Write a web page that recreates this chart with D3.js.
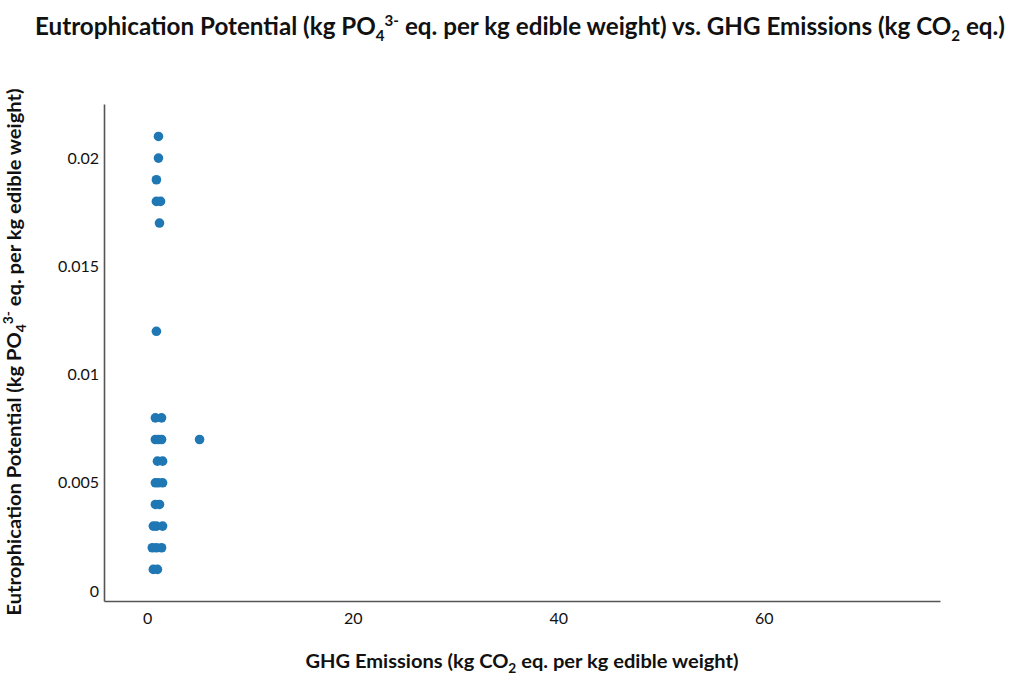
<!DOCTYPE html>
<html><head><meta charset="utf-8">
<script src="https://cdn.jsdelivr.net/npm/d3@7"></script>
<style>body{margin:0;background:#fff;} svg{display:block;}</style>
</head><body>
<svg id="c" width="1024" height="675"></svg>
<script>
const ghg = [1.1, 1.1, 0.9, 0.9, 1.3, 1.2, 0.9, 0.8, 1.4, 0.8, 1.1, 1.4, 5.1, 1.0, 1.5, 0.8, 1.1, 1.5, 0.8, 1.2, 0.6, 0.9, 1.5, 0.5, 0.9, 1.4, 0.6, 1.0];
const eutro = [0.021, 0.020, 0.019, 0.018, 0.018, 0.017, 0.012, 0.008, 0.008, 0.007, 0.007, 0.007, 0.007, 0.006, 0.006, 0.005, 0.005, 0.005, 0.004, 0.004, 0.003, 0.003, 0.003, 0.002, 0.002, 0.002, 0.001, 0.001];
const xTicks = [0, 20, 40, 60];
const yTicks = [0, 0.005, 0.01, 0.015, 0.02];
const xTickLabels = ["0", "20", "40", "60"];
const yTickLabels = ["0", "0.005", "0.01", "0.015", "0.02"];

const svg = d3.select("#c");
const FONT = "Lato, 'Open Sans', sans-serif";
const L = 104, R = 940, T = 104, B = 601;
const x = d3.scaleLinear().domain([-4.2, 77.15]).range([L, R]);
const y = d3.scaleLinear().domain([-0.00046, 0.0225]).range([B, T]);

// axes
const gx = svg.append("g").attr("transform", `translate(0,${B})`)
  .call(d3.axisBottom(x).tickValues(xTicks).tickFormat((d,i)=>xTickLabels[i]).tickSize(0).tickPadding(12));
const gy = svg.append("g").attr("transform", `translate(${L},0)`)
  .call(d3.axisLeft(y).tickValues(yTicks).tickFormat((d,i)=>yTickLabels[i]).tickSize(0).tickPadding(5));
[gx, gy].forEach(g => {
  g.select(".domain").attr("stroke", "#555").attr("stroke-width", 1.6);
  g.selectAll("text").attr("font-family", FONT).attr("font-size", 16).attr("fill", "#111");
});

// points
svg.append("g").selectAll("circle").data(ghg).join("circle")
  .attr("cx", (d) => x(d))
  .attr("cy", (d, i) => y(eutro[i]))
  .attr("r", 4.8)
  .attr("fill", "#1f77b4");

function fit(t, w) {
  t.attr("textLength", w).attr("lengthAdjust", "spacingAndGlyphs");
}

// title
const title = svg.append("text").attr("x", 520).attr("y", 35).attr("text-anchor", "middle")
  .attr("font-family", FONT).attr("font-weight", "bold").attr("font-size", 24).attr("fill", "#111");
title.append("tspan").text("Eutrophication Potential (kg PO");
title.append("tspan").attr("font-size", 15).attr("dy", 6).text("4");
title.append("tspan").attr("font-size", 15).attr("dy", -15).text("3-");
title.append("tspan").attr("dy", 9).text(" eq. per kg edible weight) vs. GHG Emissions (kg CO");
title.append("tspan").attr("font-size", 15).attr("dy", 6).text("2");
title.append("tspan").attr("dy", -6).text(" eq.)");
fit(title, 970);

// x label
const xl = svg.append("text").attr("x", 522).attr("y", 668).attr("text-anchor", "middle")
  .attr("font-family", FONT).attr("font-weight", "bold").attr("font-size", 19).attr("fill", "#111");
xl.append("tspan").text("GHG Emissions (kg CO");
xl.append("tspan").attr("font-size", 13).attr("dy", 5).text("2");
xl.append("tspan").attr("dy", -5).text(" eq. per kg edible weight)");
fit(xl, 433);

// y label
const yl = svg.append("text").attr("transform", "translate(21,352) rotate(-90)").attr("text-anchor", "middle")
  .attr("font-family", FONT).attr("font-weight", "bold").attr("font-size", 19).attr("fill", "#111");
yl.append("tspan").text("Eutrophication Potential (kg PO");
yl.append("tspan").attr("font-size", 13).attr("dy", 5).text("4");
yl.append("tspan").attr("font-size", 13).attr("dy", -13).text("3-");
yl.append("tspan").attr("dy", 8).text(" eq. per kg edible weight)");
fit(yl, 527);
</script>
</body></html>
